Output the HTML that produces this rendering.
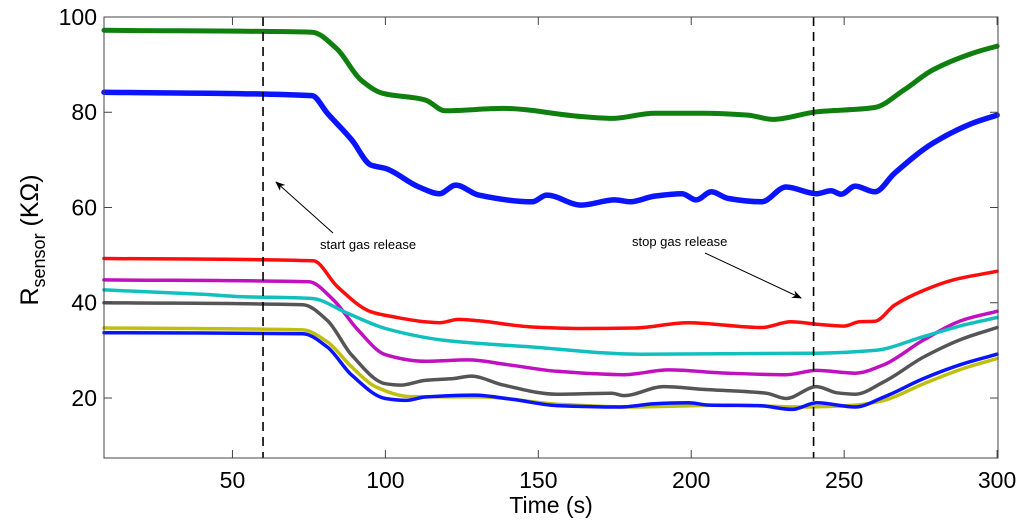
<!DOCTYPE html>
<html><head><meta charset="utf-8"><style>
html,body{margin:0;padding:0;background:#fff;}
svg{display:block;font-family:"Liberation Sans",sans-serif;}
</style></head><body>
<svg id="chart" width="1024" height="529" viewBox="0 0 1024 529" xmlns="http://www.w3.org/2000/svg">
<g id="marks"></g>
<g id="axes"></g>
</svg>
<script>
const xTicks = [50, 100, 150, 200, 250, 300];
const yTicks = [20, 40, 60, 80, 100];
const seriesNames = ['green-top', 'blue-top', 'red', 'magenta', 'cyan', 'gray', 'yellow', 'blue-bottom'];
const greenT = [8, 76, 84, 92, 99, 113, 119.5, 138.6, 164, 174, 188, 204, 218.6, 226.6, 241, 260, 269.6, 279, 292, 300];
const greenV = [97.2, 96.8, 93.4, 86.8, 84.0, 82.6, 80.3, 80.8, 79.1, 78.7, 79.8, 79.8, 79.4, 78.5, 80.1, 81.0, 84.7, 88.9, 92.4, 93.9];
const blueTopT = [8, 76, 81, 89, 95.3, 100, 111, 117.7, 123, 130.5, 148, 152.7, 164, 175, 180, 188, 197, 201.6, 206.6, 212, 223, 231, 241, 245.7, 249, 253.6, 260, 266.5, 279, 292, 300];
const blueTopV = [84.2, 83.5, 79.8, 74.2, 68.9, 68.2, 64.3, 62.9, 64.7, 62.6, 61.2, 62.6, 60.5, 61.6, 61.2, 62.4, 62.9, 61.6, 63.3, 61.9, 61.2, 64.3, 62.9, 63.5, 62.8, 64.5, 63.3, 67.2, 73.5, 77.7, 79.4];
const redT = [8, 76.4, 84.4, 95.3, 103, 113, 117.7, 124, 130.5, 148, 164, 181.5, 199, 223, 232.6, 241, 250, 255, 260, 266.5, 276, 285.7, 300];
const redV = [49.3, 48.8, 43.3, 38.1, 37.0, 36.0, 35.8, 36.5, 36.2, 34.9, 34.6, 34.7, 35.8, 34.8, 36.0, 35.5, 35.1, 36.0, 36.1, 39.5, 42.6, 44.8, 46.6];
const magentaT = [8, 75, 83, 91, 100, 113, 127, 140, 156, 178, 192.5, 212, 231, 241, 253.6, 263, 276, 289, 300];
const magentaV = [44.8, 44.4, 40.6, 34.3, 29.1, 27.7, 28.0, 27.0, 25.6, 24.9, 25.9, 25.2, 24.9, 25.8, 25.2, 27.0, 32.2, 36.4, 38.2];
const cyanT = [8, 40, 52.5, 76, 87.6, 100, 119.5, 148, 183, 241, 260, 276, 289, 300];
const cyanV = [42.7, 41.8, 41.3, 40.9, 37.8, 34.6, 32.1, 30.7, 29.2, 29.4, 30.0, 32.9, 35.3, 36.9];
const grayT = [8, 73, 81, 89, 100, 105, 113, 122.5, 128, 138.6, 156, 174, 178, 191, 204, 224.6, 231, 241, 247.6, 253.6, 263, 276, 289, 300];
const grayV = [40.0, 39.6, 36.3, 29.0, 23.0, 22.7, 23.7, 24.1, 24.6, 22.7, 20.8, 21.0, 20.5, 22.4, 21.8, 21.0, 19.9, 22.4, 21.1, 20.8, 23.4, 28.6, 32.5, 34.8];
const yellowT = [8, 73, 81, 89, 97, 108, 132, 156, 180, 212, 236, 253.6, 263, 276, 289, 300];
const yellowV = [34.7, 34.3, 31.8, 26.5, 22.3, 20.3, 20.2, 18.7, 18.1, 18.5, 18.1, 18.5, 19.5, 23.0, 26.2, 28.3];
const blueBotT = [8, 73, 81, 89, 100, 106.7, 113, 129, 141.7, 156, 177, 188, 199, 206, 222, 233, 241, 253.6, 263, 276, 289, 300];
const blueBotV = [33.7, 33.5, 30.7, 24.8, 19.9, 19.5, 20.2, 20.6, 19.7, 18.4, 18.1, 18.8, 19.0, 18.5, 18.4, 17.6, 19.0, 18.1, 20.2, 24.1, 27.2, 29.2];
const markers = [60, 240];

const NS = 'http://www.w3.org/2000/svg';
const L = 104, R = 998, T = 17, B = 458;
const xMin = 8, xMax = 300.3, yMin = 7.4, yMax = 100;
function xs(t){ return L + (t - xMin) / (xMax - xMin) * (R - L); }
function ys(v){ return B - (v - yMin) / (yMax - yMin) * (B - T); }
function mk(tag, attrs, parent){ const e = document.createElementNS(NS, tag); for (const k in attrs) e.setAttribute(k, attrs[k]); parent.appendChild(e); return e; }
// monotone cubic (Fritsch-Carlson) path in pixel space
function smoothPath(pts){
  const n = pts.length, dx = [], dy = [], s = [], m = [];
  for (let i = 0; i < n - 1; i++) { dx[i] = pts[i+1][0] - pts[i][0]; dy[i] = pts[i+1][1] - pts[i][1]; s[i] = dy[i] / dx[i]; }
  m[0] = s[0]; m[n-1] = s[n-2];
  for (let i = 1; i < n - 1; i++) {
    if (s[i-1] * s[i] <= 0) m[i] = 0;
    else { const w1 = 2*dx[i] + dx[i-1], w2 = dx[i] + 2*dx[i-1]; m[i] = (w1 + w2) / (w1 / s[i-1] + w2 / s[i]); }
  }
  let d = 'M' + pts[0][0].toFixed(1) + ' ' + pts[0][1].toFixed(1);
  for (let i = 0; i < n - 1; i++) {
    const h = dx[i] / 3;
    d += ' C' + (pts[i][0] + h).toFixed(1) + ' ' + (pts[i][1] + m[i]*h).toFixed(1) + ' ' +
         (pts[i+1][0] - h).toFixed(1) + ' ' + (pts[i+1][1] - m[i+1]*h).toFixed(1) + ' ' +
         pts[i+1][0].toFixed(1) + ' ' + pts[i+1][1].toFixed(1);
  }
  return d;
}

const marks = document.getElementById('marks');
const axes = document.getElementById('axes');

const series = [
  [greenT, greenV, '#0f7f0f', 5],
  [blueTopT, blueTopV, '#0a14ff', 5.5],
  [redT, redV, '#ff0d0d', 3.5],
  [magentaT, magentaV, '#c010c0', 3.5],
  [cyanT, cyanV, '#12bfbf', 3.5],
  [grayT, grayV, '#555555', 3.5],
  [yellowT, yellowV, '#bfbf10', 3.5],
  [blueBotT, blueBotV, '#0a14ff', 3.5]
];
series.forEach((s, i) => {
  const pts = s[0].map((t, j) => [xs(t), ys(s[1][j])]);
  const p = mk('path', {d: smoothPath(pts), fill: 'none', stroke: s[2], 'stroke-width': s[3], 'stroke-linejoin': 'round', 'stroke-linecap': 'round'}, marks);
  
  
});

markers.forEach(m => {
  const l = mk('line', {x1: xs(m), x2: xs(m), y1: T, y2: B, stroke: '#000', 'stroke-width': 1.6, 'stroke-dasharray': '9 6'}, marks);
  
  
});

const box = mk('rect', {x: L, y: T, width: R - L, height: B - T, fill: 'none', stroke: '#444', 'stroke-width': 1}, axes);



xTicks.forEach(t => {
  mk('line', {x1: xs(t), x2: xs(t), y1: B, y2: B - 8, stroke: '#444'}, axes);
  mk('line', {x1: xs(t), x2: xs(t), y1: T, y2: T + 8, stroke: '#444'}, axes);
  const tx = mk('text', {x: xs(t), y: B + 30, 'font-size': 23, 'text-anchor': 'middle', fill: '#000'}, axes);
  tx.textContent = t;
  
  
});
yTicks.forEach(v => {
  mk('line', {x1: L, x2: L + 8, y1: ys(v), y2: ys(v), stroke: '#444'}, axes);
  mk('line', {x1: R, x2: R - 8, y1: ys(v), y2: ys(v), stroke: '#444'}, axes);
  const tx = mk('text', {x: L - 7, y: ys(v) + 8, 'font-size': 23, 'text-anchor': 'end', fill: '#000'}, axes);
  tx.textContent = v;
  
  
});
</script>
<svg style="position:absolute;left:0;top:0" width="1024" height="529" xmlns="http://www.w3.org/2000/svg" font-family="Liberation Sans, sans-serif">
<defs><marker id="ah" markerWidth="10" markerHeight="8" refX="9" refY="4" orient="auto"><path d="M0 0 L10 4 L0 8 L3 4 Z" fill="#000"/></marker></defs>
<text x="551" y="513" font-size="23" text-anchor="middle">Time (s)</text>
<text transform="translate(38,240) rotate(-90)" font-size="25" text-anchor="middle">R<tspan font-size="18" dy="7">sensor</tspan><tspan dy="-7"> (KΩ)</tspan></text>
<text x="320" y="249" font-size="13">start gas release</text>
<line x1="333" y1="233" x2="276" y2="182" stroke="#000" stroke-width="1" marker-end="url(#ah)"/>
<text x="632" y="246" font-size="13">stop gas release</text>
<line x1="705" y1="253" x2="801" y2="298" stroke="#000" stroke-width="1" marker-end="url(#ah)"/>
</svg>
</body></html>
